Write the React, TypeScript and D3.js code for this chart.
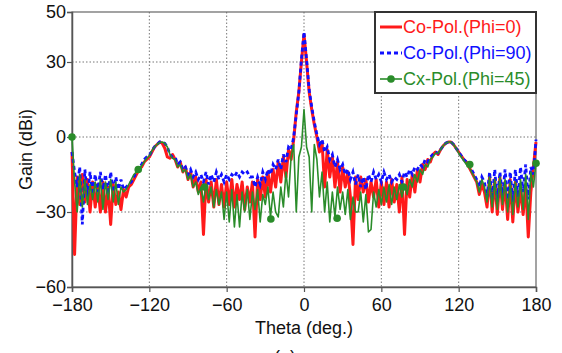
import * as d3 from 'd3';
import React, { useEffect, useRef } from 'react';

// theta grid, 2 deg steps from -180 to 180
const theta: number[] = d3.range(-180, 181, 2);

// Co-Pol (Phi=0), dBi
const coPol0: number[] = [
  -6, -47, -16, -27, -15, -26, -17, -30, -18, -28,
  -19, -30, -18, -30, -20, -35, -19, -27, -22, -29,
  -21, -24, -20, -19, -17, -15, -13, -12, -10, -9,
  -8, -6, -4, -3, -2, -2.5, -4.5, -8, -8.5, -7,
  -9, -12, -10, -14, -12, -17, -14, -20, -16, -22,
  -18, -39, -17, -26, -18, -28, -17, -27, -19, -28,
  -18, -27, -17, -28, -19, -25, -18, -29, -20, -26,
  -18, -40, -17, -25, -16, -24, -14, -22, -13, -20,
  -10, -18, -8, -16, -5, -9, -1, 10, 18, 30,
  41,
  30, 18, 11, 5, 0, -6, -2, -20, -5, -16,
  -8, -20, -10, -22, -12, -20, -14, -24, -43, -16,
  -25, -16, -22, -17, -26, -18, -24, -17, -28, -18,
  -27, -18, -28, -17, -26, -19, -30, -16, -39, -17,
  -24, -15, -22, -13, -18, -11, -13, -9, -10, -7,
  -6, -7, -5, -3.5, -2.5, -2, -2, -3, -4.5, -6,
  -7.5, -9, -10, -12, -14, -16, -18, -23, -19, -22,
  -28, -16, -30, -17, -31, -16, -29, -18, -33, -17,
  -34, -18, -30, -20, -31, -19, -40, -22, -12, -2,
];

// Co-Pol (Phi=90), dBi
const coPol90: number[] = [
  -6, -14, -20, -12, -35, -13, -24, -14, -23, -15,
  -22, -14, -21, -15, -23, -14, -22, -16, -21, -17,
  -21, -20, -19, -18, -16, -14, -12, -11, -9, -8,
  -7.5, -5.5, -4, -3, -2, -2, -2.5, -4, -7, -8,
  -8, -11, -10, -13, -12, -15, -13, -16, -14, -17,
  -15, -18, -14, -19, -15, -18, -14, -17, -15, -18,
  -15, -17, -15, -16, -14, -16, -14, -15, -14, -16,
  -16, -20, -16, -19, -14, -17, -13, -15, -11, -13,
  -9, -13, -7, -10, -4, -5, 0, 9, 18, 31,
  42,
  31, 19, 12, 6, 1, -3, -1, -6, -4, -9,
  -7, -12, -9, -13, -11, -15, -13, -17, -14, -19,
  -15, -20, -16, -21, -15, -18, -14, -17, -15, -18,
  -14, -17, -15, -18, -16, -17, -15, -18, -14, -16,
  -13, -15, -12, -13, -11, -12, -9, -10, -8, -7,
  -6, -6.5, -5, -3.5, -2.5, -2, -2, -3, -4.5, -6,
  -7.5, -9, -10, -11.5, -13, -15, -17, -20, -16, -18,
  -24, -14, -25, -13, -26, -14, -24, -13, -25, -14,
  -26, -13, -24, -12, -22, -11, -25, -12, -15, -1,
];

// Cx-Pol (Phi=45), dBi
const cxPol45: number[] = [
  0, -18, -30, -15, -28, -17, -27, -19, -25, -18,
  -26, -17, -29, -18, -25, -17, -26, -18, -27, -20,
  -22, -21, -19, -17, -15, -14, -13, -11.5, -10, -8.5,
  -7.5, -5.5, -4, -3, -2.2, -2, -2.5, -4, -7, -8.5,
  -9, -12, -11, -14, -13, -17, -15, -20, -18, -23,
  -20, -26, -19, -25, -20, -28, -21, -27, -22, -33,
  -22, -34, -21, -36, -23, -36, -22, -30, -21, -33,
  -22, -29, -21, -34, -23, -27, -20, -32, -22, -30,
  -32, -20, -28, -14, -24, -8, -3, -30, -8, -4,
  11,
  -4, -8, -30, -3, -9, -24, -14, -30, -18, -34,
  -22, -32, -20, -29, -22, -31, -21, -33, -24, -30,
  -30, -22, -34, -23, -38, -37, -22, -28, -21, -27,
  -20, -26, -19, -27, -20, -25, -19, -24, -19, -23,
  -17, -20, -15, -18, -13, -15, -11, -12, -9, -8,
  -6.5, -6.5, -5, -3.5, -2.5, -2, -2, -3, -4.5, -6.5,
  -8, -9.5, -11, -12, -14, -16, -18, -22, -17, -20,
  -26, -16, -28, -17, -29, -16, -27, -17, -30, -18,
  -31, -18, -28, -17, -29, -15, -33, -14, -20, -10,
];

// marker points on the Cx-Pol curve
const cxMarkTheta: number[] = [-180, -128.6, -77.1, -25.7, 25.7, 77.1, 128.6, 180];
const cxMarkGain: number[] = [0, -13, -20, -32.8, -32.5, -20, -11, -10.5];

const xTicks: number[] = [-180, -120, -60, 0, 60, 120, 180];
const yTicks: number[] = [-60, -30, 0, 30, 50];
const legendLabels: string[] = ['Co-Pol.(Phi=0)', 'Co-Pol.(Phi=90)', 'Cx-Pol.(Phi=45)'];

const FONT = '"Liberation Sans", Arial, sans-serif';
const RED = '#ff1a1a';
const BLUE = '#1010ff';
const GREEN = '#2a8c2a';

function PatternChart({ width = 562, height = 353 }) {
  const svgRef = useRef<SVGSVGElement>(null);

  useEffect(() => {
    const svg = d3.select(svgRef.current);
    svg.selectAll('*').remove();

    const margin = { top: 12, right: 26, bottom: 66, left: 72 };
    const innerWidth = width - margin.left - margin.right;
    const innerHeight = height - margin.top - margin.bottom;

    const g = svg.append('g').attr('transform', `translate(${margin.left},${margin.top})`);

    const x = d3.scaleLinear().domain([-180, 180]).range([0, innerWidth]);
    const y = d3.scaleLinear().domain([-60, 50]).range([innerHeight, 0]);

    // grid
    g.append('g')
      .selectAll('line')
      .data(xTicks.slice(1, -1))
      .join('line')
      .attr('x1', d => x(d)).attr('x2', d => x(d))
      .attr('y1', 0).attr('y2', innerHeight)
      .attr('stroke', '#777').attr('stroke-width', 1).attr('stroke-dasharray', '1.5,2');
    g.append('g')
      .selectAll('line')
      .data([-30, 0, 30])
      .join('line')
      .attr('x1', 0).attr('x2', innerWidth)
      .attr('y1', d => y(d)).attr('y2', d => y(d))
      .attr('stroke', '#777').attr('stroke-width', 1).attr('stroke-dasharray', '1.5,2');

    // frame
    g.append('rect')
      .attr('width', innerWidth).attr('height', innerHeight)
      .attr('fill', 'none').attr('stroke', '#666').attr('stroke-width', 1.2);

    // axes
    const xAxis = g.append('g')
      .attr('transform', `translate(0,${innerHeight})`)
      .call(d3.axisBottom(x).tickValues(xTicks).tickSize(5).tickPadding(6));
    const yAxis = g.append('g')
      .call(d3.axisLeft(y).tickValues(yTicks).tickSize(5).tickPadding(1));
    [xAxis, yAxis].forEach(a => {
      a.select('.domain').attr('stroke', '#555').attr('stroke-width', 1.5);
      a.selectAll('.tick line').attr('stroke', '#555').attr('stroke-width', 1.2);
      a.selectAll('.tick text')
        .attr('fill', '#111')
        .style('font-family', FONT)
        .style('font-size', '18px');
    });

    // curves
    const line = d3.line<number>()
      .x((_, i) => x(theta[i]))
      .y(d => y(d))
      .curve(d3.curveLinear);

    const plot = g.append('g');
    plot.append('path').datum(coPol0).attr('d', line)
      .attr('fill', 'none').attr('stroke', RED).attr('stroke-width', 3).attr('stroke-linejoin', 'round');
    plot.append('path').datum(coPol90).attr('d', line)
      .attr('fill', 'none').attr('stroke', BLUE).attr('stroke-width', 2.8).attr('stroke-dasharray', '4,3');
    plot.append('path').datum(cxPol45).attr('d', line)
      .attr('fill', 'none').attr('stroke', GREEN).attr('stroke-width', 1.6).attr('stroke-linejoin', 'round');
    plot.selectAll('circle')
      .data(cxMarkTheta)
      .join('circle')
      .attr('cx', d => x(d))
      .attr('cy', (_, i) => y(cxMarkGain[i]))
      .attr('r', 3.8)
      .attr('fill', GREEN);

    // axis titles
    g.append('text')
      .attr('x', innerWidth / 2)
      .attr('y', innerHeight + 47)
      .attr('text-anchor', 'middle')
      .style('font-family', FONT).style('font-size', '18px').attr('fill', '#111')
      .text('Theta (deg.)');
    g.append('text')
      .attr('transform', 'rotate(-90)')
      .attr('x', -innerHeight / 2)
      .attr('y', -40)
      .attr('text-anchor', 'middle')
      .style('font-family', FONT).style('font-size', '18px').attr('fill', '#111')
      .text('Gain (dBi)');

    // caption (cut off by the bottom of the picture, as in the original)
    svg.append('text')
      .attr('x', 285)
      .attr('y', 363)
      .attr('text-anchor', 'middle')
      .style('font-family', FONT).style('font-size', '18px').attr('fill', '#111')
      .text('(a)');

    // legend
    const lg = g.append('g').attr('transform', `translate(${innerWidth - 161},0)`);
    lg.append('rect')
      .attr('width', 161).attr('height', 81)
      .attr('fill', 'white').attr('stroke', '#333').attr('stroke-width', 2);
    const colors = [RED, BLUE, GREEN];
    legendLabels.forEach((label, i) => {
      const cy = 15 + i * 26;
      const l = lg.append('line')
        .attr('x1', 5).attr('x2', 27).attr('y1', cy).attr('y2', cy)
        .attr('stroke', colors[i]);
      if (i === 0) l.attr('stroke-width', 3);
      if (i === 1) l.attr('stroke-width', 2.8).attr('stroke-dasharray', '4,3');
      if (i === 2) {
        l.attr('stroke-width', 1.6);
        lg.append('circle').attr('cx', 16).attr('cy', cy).attr('r', 3.8).attr('fill', GREEN);
      }
      lg.append('text')
        .attr('x', 28).attr('y', cy)
        .attr('dy', '0.35em')
        .style('font-family', FONT).style('font-size', '18px')
        .attr('fill', colors[i])
        .text(label);
    });
  }, [width, height]);

  return (
    <div style={{ position: 'absolute', left: 0, top: 0, width, height, background: 'white' }}>
      <svg ref={svgRef} width={width} height={height}></svg>
    </div>
  );
}

export default function App() {
  return <PatternChart />;
}
